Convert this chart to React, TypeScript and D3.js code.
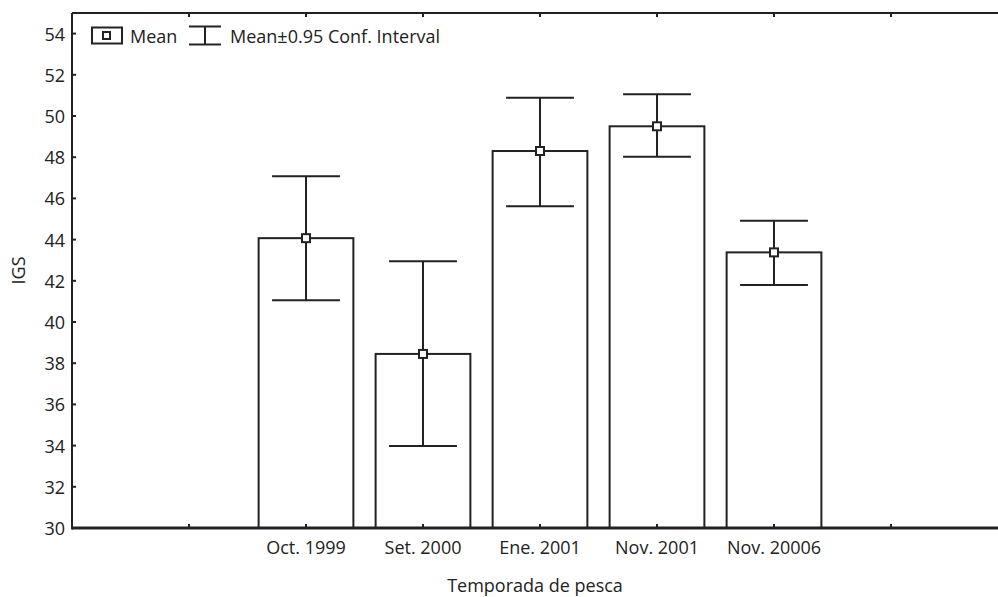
import React, { useRef, useEffect } from "react";
import * as d3 from "d3";

const categories = ["Oct. 1999", "Set. 2000", "Ene. 2001", "Nov. 2001", "Nov. 20006"];
const means = [44.07, 38.45, 48.3, 49.5, 43.38];
const upper = [47.07, 42.95, 50.88, 51.05, 44.92];
const lower = [41.05, 33.98, 45.62, 48.02, 41.8];
const yTicks = [30, 32, 34, 36, 38, 40, 42, 44, 46, 48, 50, 52, 54];
const xTickSlots = [1, 2, 3, 4, 5, 6, 7];

const W = 998;
const H = 597;
const FONT = "'Open Sans', 'DejaVu Sans', sans-serif";
const FS = 18;
const INK = "#222";

export default function App() {
  const svgRef = useRef<SVGSVGElement>(null);

  useEffect(() => {
    const svg = d3.select(svgRef.current);
    svg.selectAll("*").remove();

    const left = 72, top = 13, bottom = 528, slot = 117;
    // categories sit on slots 2..6 of an 8-slot axis (Statistica style)
    const x = d3.scaleLinear().domain([0, 8]).range([left, left + slot * 8]);
    const y = d3.scaleLinear().domain([30, 55]).range([bottom, top]);
    const barW = slot * 0.81;
    const capW = slot * 0.58;

    const g = svg.append("g");

    // bars
    categories.forEach((c, i) => {
      const cx = x(i + 2);
      g.append("rect")
        .attr("x", cx - barW / 2)
        .attr("y", y(means[i]))
        .attr("width", barW)
        .attr("height", bottom - y(means[i]))
        .attr("fill", "#fff")
        .attr("stroke", INK)
        .attr("stroke-width", 2);
    });

    // error bars
    categories.forEach((c, i) => {
      const cx = x(i + 2);
      g.append("line")
        .attr("x1", cx).attr("x2", cx)
        .attr("y1", y(upper[i])).attr("y2", y(lower[i]))
        .attr("stroke", INK).attr("stroke-width", 2);
      [upper[i], lower[i]].forEach(v => {
        g.append("line")
          .attr("x1", cx - capW / 2).attr("x2", cx + capW / 2)
          .attr("y1", y(v)).attr("y2", y(v))
          .attr("stroke", INK).attr("stroke-width", 2);
      });
      g.append("rect")
        .attr("x", cx - 4).attr("y", y(means[i]) - 4)
        .attr("width", 8).attr("height", 8)
        .attr("fill", "#fff").attr("stroke", INK).attr("stroke-width", 2);
    });

    // frame lines
    g.append("line").attr("x1", left).attr("x2", W + 20).attr("y1", top).attr("y2", top)
      .attr("stroke", INK).attr("stroke-width", 2);
    g.append("line").attr("x1", left).attr("x2", W + 20).attr("y1", bottom).attr("y2", bottom)
      .attr("stroke", INK).attr("stroke-width", 3);
    g.append("line").attr("x1", left).attr("x2", left).attr("y1", top).attr("y2", bottom + 1.5)
      .attr("stroke", INK).attr("stroke-width", 2);

    // y ticks
    yTicks.forEach(t => {
      g.append("line").attr("x1", left).attr("x2", left + 4)
        .attr("y1", y(t)).attr("y2", y(t)).attr("stroke", INK).attr("stroke-width", 2);
      g.append("text").text(t)
        .attr("x", left - 7).attr("y", y(t))
        .attr("text-anchor", "end").attr("dominant-baseline", "central")
        .attr("font-family", FONT).attr("font-size", FS).attr("fill", INK);
    });

    // x ticks top and bottom
    xTickSlots.forEach(s => {
      g.append("line").attr("x1", x(s)).attr("x2", x(s))
        .attr("y1", top).attr("y2", top + 4).attr("stroke", INK).attr("stroke-width", 2);
      g.append("line").attr("x1", x(s)).attr("x2", x(s))
        .attr("y1", bottom).attr("y2", bottom - 4).attr("stroke", INK).attr("stroke-width", 2);
    });

    categories.forEach((c, i) => {
      g.append("text").text(c)
        .attr("x", x(i + 2)).attr("y", bottom + 26)
        .attr("text-anchor", "middle")
        .attr("font-family", FONT).attr("font-size", FS).attr("fill", INK);
    });

    // axis titles
    g.append("text").text("Temporada de pesca")
      .attr("x", x(4) - 5).attr("y", 592)
      .attr("text-anchor", "middle")
      .attr("font-family", FONT).attr("font-size", FS).attr("fill", INK);
    g.append("text").text("IGS")
      .attr("transform", `translate(25,${(top + bottom) / 2}) rotate(-90)`)
      .attr("text-anchor", "middle")
      .attr("font-family", FONT).attr("font-size", FS).attr("fill", INK);

    // legend
    const ly = 35.5;
    g.append("rect").attr("x", 92).attr("y", ly - 8).attr("width", 30).attr("height", 16)
      .attr("fill", "#fff").attr("stroke", INK).attr("stroke-width", 2);
    g.append("rect").attr("x", 103).attr("y", ly - 3.5).attr("width", 7).attr("height", 7)
      .attr("fill", "#fff").attr("stroke", INK).attr("stroke-width", 2);
    g.append("text").text("Mean").attr("x", 130).attr("y", ly)
      .attr("dominant-baseline", "central")
      .attr("font-family", FONT).attr("font-size", FS).attr("fill", INK);
    g.append("line").attr("x1", 205).attr("x2", 205).attr("y1", ly - 9).attr("y2", ly + 9)
      .attr("stroke", INK).attr("stroke-width", 2);
    [ly - 9, ly + 9].forEach(yy => {
      g.append("line").attr("x1", 189).attr("x2", 221).attr("y1", yy).attr("y2", yy)
        .attr("stroke", INK).attr("stroke-width", 2);
    });
    g.append("text").text("Mean±0.95 Conf. Interval").attr("x", 230).attr("y", ly)
      .attr("dominant-baseline", "central")
      .attr("font-family", FONT).attr("font-size", FS).attr("fill", INK);
  }, []);

  return (
    <svg ref={svgRef} width={W} height={H}
      style={{ position: "absolute", left: 0, top: 0, background: "#fff" }} />
  );
}
